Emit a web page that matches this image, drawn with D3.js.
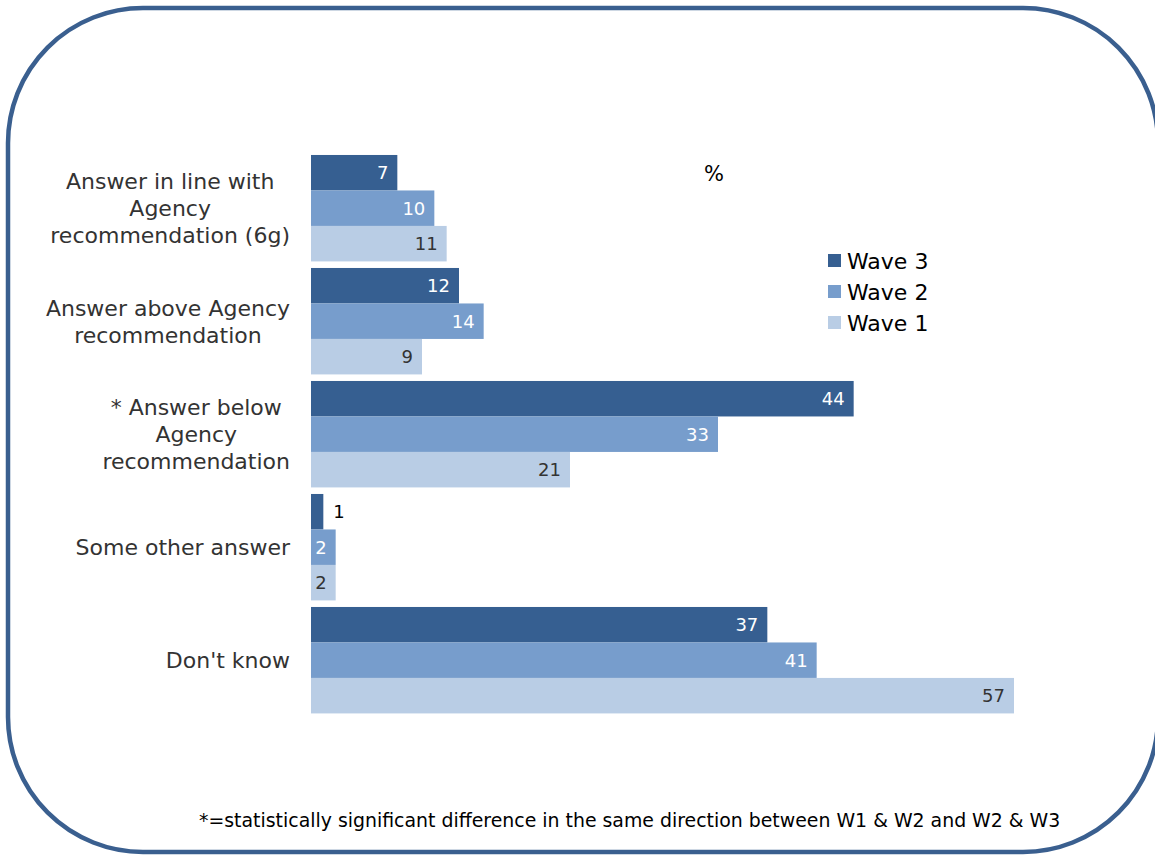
<!DOCTYPE html>
<html><head><meta charset="utf-8">
<script src="https://cdn.jsdelivr.net/npm/d3@7"></script>
<style>body{margin:0;background:#fff}svg{display:block}</style>
</head><body>
<script>
const categories = [
  ["Answer in line with","Agency","recommendation (6g)"],
  ["Answer above Agency","recommendation"],
  ["* Answer below","Agency","recommendation"],
  ["Some other answer"],
  ["Don't know"]
];
const series = ["Wave 3","Wave 2","Wave 1"];
const wave3 = [7, 12, 44, 1, 37];
const wave2 = [10, 14, 33, 2, 41];
const wave1 = [11, 9, 21, 2, 57];
const colors = ["#365f91","#779dcc","#b9cde5"];
const labelColors = ["#ffffff","#ffffff","#333333"];
const footnote = "*=statistically significant difference in the same direction between W1 & W2 and W2 & W3";

const W = 1155, H = 856;
const svg = d3.select("body").append("svg").attr("width", W).attr("height", H);
const font = "'DejaVu Sans', Verdana, sans-serif";

svg.append("rect").attr("x", 8).attr("y", 8).attr("width", 1150).attr("height", 844)
  .attr("rx", 135).attr("ry", 135).attr("fill", "none")
  .attr("stroke", "#3a5f8f").attr("stroke-width", 4.5);

const values = [wave3, wave2, wave1];
const idx = d3.range(categories.length);
const x = d3.scaleLinear().domain([0, 57]).range([311, 1014]);
const y = d3.scaleBand().domain(idx).range([151.7, 716.7]).paddingInner(0.058).paddingOuter(0.029);
const yi = d3.scaleBand().domain(d3.range(series.length)).range([0, y.bandwidth()]);

const g = svg.append("g");
idx.forEach(i => {
  series.forEach((s, k) => {
    const v = values[k][i];
    const y0 = y(i) + yi(k);
    g.append("rect").attr("x", x(0)).attr("y", y0)
      .attr("width", x(v) - x(0)).attr("height", yi.bandwidth())
      .attr("fill", colors[k]);
    const inside = (x(v) - x(0)) > 20;
    g.append("text")
      .attr("x", inside ? x(v) - 9 : x(v) + 10)
      .attr("y", y0 + yi.bandwidth() / 2)
      .attr("dy", "0.36em")
      .attr("text-anchor", inside ? "end" : "start")
      .attr("font-family", font).attr("font-size", 18)
      .attr("fill", inside ? labelColors[k] : "#000")
      .text(v);
  });
  const lines = categories[i];
  const cy = y(i) + y.bandwidth() / 2;
  const lh = 27;
  const t = svg.append("text").attr("text-anchor", "middle")
    .attr("font-family", font).attr("font-size", 22).attr("fill", "#333");
  const spans = lines.map((ln, j) =>
    t.append("tspan").attr("x", 0)
      .attr("y", cy + (j - (lines.length - 1) / 2) * lh).attr("dy", "0.36em").text(ln));
  const maxW = d3.max(spans, s => s.node().getComputedTextLength());
  spans.forEach(s => s.attr("x", 290 - maxW / 2));
});

// legend
const lg = svg.append("g");
series.forEach((s, k) => {
  const ly = 261 + k * 31;
  lg.append("rect").attr("x", 828).attr("y", ly - 7).attr("width", 13).attr("height", 13).attr("fill", colors[k]);
  lg.append("text").attr("x", 847).attr("y", ly).attr("dy", "0.36em")
    .attr("font-family", font).attr("font-size", 22).attr("fill", "#000").text(s);
});

svg.append("text").attr("x", 714).attr("y", 173).attr("dy", "0.36em").attr("text-anchor", "middle")
  .attr("font-family", font).attr("font-size", 21).attr("fill", "#000").text("%");

svg.append("text").attr("x", 199).attr("y", 820).attr("dy", "0.36em")
  .attr("font-family", font).attr("font-size", 18.9).attr("fill", "#000").text(footnote);
</script>
</body></html>
